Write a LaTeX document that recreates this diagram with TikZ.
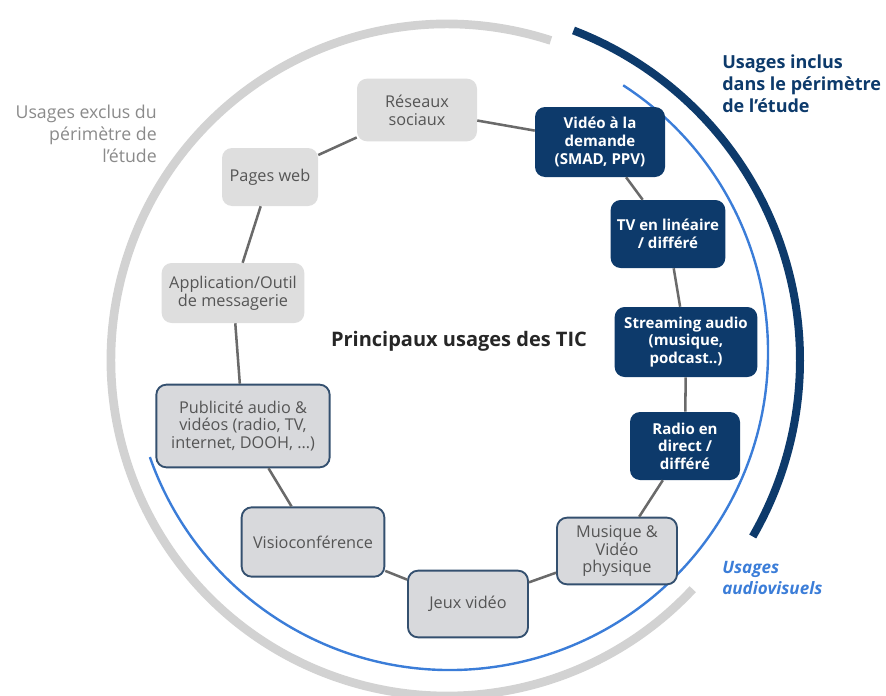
\documentclass[tikz,border=0pt]{standalone}
\usepackage{fontspec}
\setmainfont{Open Sans}
\definecolor{navy}{HTML}{0D3A6B}
\definecolor{skyline}{HTML}{3B7DD8}
\definecolor{ringgray}{HTML}{D2D2D2}
\definecolor{labgray}{HTML}{8A8A8A}
\definecolor{boxtext}{HTML}{555555}
\definecolor{plainbox}{HTML}{DEDEDE}
\definecolor{framebox}{HTML}{D8D9DC}
\definecolor{frameline}{HTML}{34506F}
\definecolor{linkgray}{HTML}{6A6A6A}
\begin{document}
\begin{tikzpicture}[x=0.75pt,y=-0.75pt,
  usebox/.style={rounded corners=7.5pt, align=center, inner sep=0pt,
    font=\fontsize{12.2}{13.3}\selectfont},
  lightbox/.style={usebox, fill=plainbox, text=boxtext},
  framedbox/.style={usebox, fill=framebox, draw=frameline, line width=1.4pt, text=boxtext},
  navybox/.style={usebox, fill=navy, text=white, font=\fontsize{11.3}{13.2}\selectfont\bfseries},
  link/.style={draw=linkgray, line width=1.9pt}]
\useasboundingbox (0,0) rectangle (886,696);

% outer rings
\draw[ringgray, line width=6.5pt] (447,360) ++(-72:336) arc[start angle=-72, end angle=-317, radius=336];
\draw[navy, line width=6pt] (447,360) ++(-69:353) arc[start angle=-69, end angle=30, radius=353];
\draw[skyline, line width=1.8pt] (450,352) ++(-57:318) arc[start angle=-57, end angle=160.7, radius=318];

% usage boxes
\node[lightbox, minimum width=90pt, minimum height=47pt] (res) at (417,110) {Réseaux\\sociaux};
\node[lightbox, minimum width=72pt, minimum height=43.5pt] (web) at (270,177) {Pages web};
\node[lightbox, minimum width=107pt, minimum height=45pt] (app) at (233,293) {Application/Outil\\de messagerie};
\node[framedbox, minimum width=130pt, minimum height=62pt] (pub) at (243,426) {Publicité audio \&\\vidéos (radio, TV,\\internet, DOOH, …)};
\node[framedbox, minimum width=107pt, minimum height=52pt] (visio) at (313,542) {Visioconférence};
\node[framedbox, minimum width=90pt, minimum height=50pt] (jeux) at (468,604) {Jeux vidéo};
\node[framedbox, minimum width=90pt, minimum height=50pt] (phys) at (617,551) {Musique \&\\Vidéo\\physique};
\node[navybox, minimum width=82.5pt, minimum height=51pt] (radio) at (685,446) {Radio en\\direct /\\différé};
\node[navybox, minimum width=107pt, minimum height=52.5pt] (stream) at (686,342) {Streaming audio\\(musique,\\podcast..)};
\node[navybox, minimum width=86pt, minimum height=51pt] (tv) at (668,234) {TV en linéaire\\/ différé};
\node[navybox, minimum width=97.5pt, minimum height=52.5pt] (vod) at (600,142) {Vidéo à la\\demande\\(SMAD, PPV)};

% ring of connectors
\draw[link] (res) -- (vod);
\draw[link] (vod) -- (tv);
\draw[link] (tv) -- (stream);
\draw[link] (stream) -- (radio);
\draw[link] (radio) -- (phys);
\draw[link] (phys) -- (jeux);
\draw[link] (jeux) -- (visio);
\draw[link] (visio) -- (pub);
\draw[link] (pub) -- (app);
\draw[link] (app) -- (web);
\draw[link] (web) -- (res);

% titles
\node[font=\fontsize{15}{17}\selectfont\bfseries, text=black!85] (title) at (459,341) {Principaux usages des TIC};
\node[anchor=north east, align=right, text=labgray, inner sep=0pt,
  font=\fontsize{13.3}{16.5}\selectfont] (excl) at (157,105) {Usages exclus du\\périmètre de\\l’étude};
\node[anchor=north west, align=left, text=navy, inner sep=0pt,
  font=\fontsize{13.5}{16.5}\selectfont\bfseries] (incl) at (722,55) {Usages inclus\\dans le périmètre\\de l’étude};
\node[anchor=north west, align=left, text=skyline, inner sep=0pt,
  font=\fontsize{12.8}{15.75}\selectfont\bfseries\itshape] (av) at (722,561) {Usages\\audiovisuels};
\end{tikzpicture}
\end{document}
